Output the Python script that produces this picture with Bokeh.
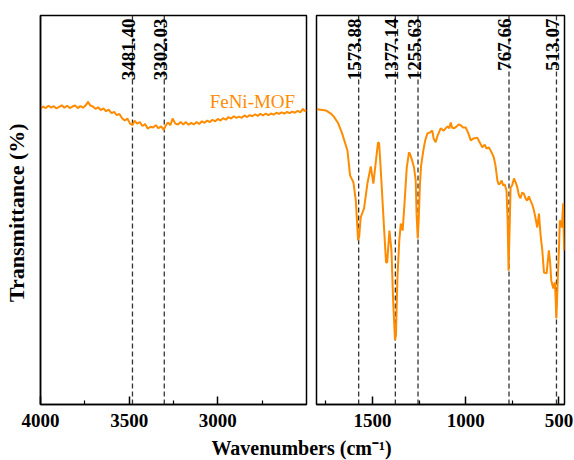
import math
from bokeh.plotting import figure
from bokeh.models import Range1d, FixedTicker, ColumnDataSource
from bokeh.layouts import row, column
from bokeh.core.properties import value
from bokeh.embed import file_html
from bokeh.resources import INLINE

# ---------------- data ----------------
series_name = "FeNi-MOF"

hi_wn = [4000, 3985, 3970, 3955, 3940, 3925, 3910, 3895, 3880, 3865, 3850, 3835, 3820, 3805,
         3790, 3775, 3760, 3745, 3732, 3720, 3705, 3690, 3675, 3660, 3645, 3630, 3615, 3600,
         3585, 3570, 3555, 3540, 3525, 3510, 3495, 3481, 3470, 3455, 3440, 3425, 3410, 3395,
         3380, 3365, 3350, 3335, 3320, 3305, 3295, 3282, 3268, 3255, 3240, 3225, 3210, 3195,
         3180, 3165, 3150, 3135, 3120, 3105, 3090, 3075, 3060, 3045, 3030, 3015, 3000, 2985,
         2970, 2955, 2940, 2925, 2910, 2895, 2880, 2865, 2850, 2835, 2820, 2805, 2790, 2775,
         2760, 2745, 2730, 2715, 2700, 2685, 2670, 2655, 2640, 2625, 2610, 2595, 2580, 2565,
         2550, 2535, 2520, 2510, 2500]
hi_t = [76.0, 76.6, 76.2, 76.8, 76.3, 76.7, 76.1, 76.5, 76.9, 76.3, 76.8, 76.2, 76.6, 76.9,
        76.2, 76.7, 76.3, 76.9, 77.8, 76.9, 76.6, 76.0, 76.4, 75.7, 76.1, 75.4, 75.8, 74.9,
        75.2, 74.4, 74.7, 73.6, 73.0, 73.5, 72.2, 71.8, 73.0, 72.2, 72.6, 71.6, 72.1, 70.9,
        71.4, 71.2, 71.8, 71.0, 71.5, 70.6, 71.6, 72.5, 71.8, 73.5, 72.2, 72.0, 72.6, 72.0,
        72.6, 71.9, 72.4, 72.0, 72.6, 72.1, 72.8, 72.4, 73.0, 72.6, 73.2, 72.8, 73.4, 73.0,
        73.6, 73.2, 73.9, 73.5, 74.1, 73.7, 74.0, 73.7, 74.3, 73.9, 74.4, 74.1, 74.6, 74.2,
        74.7, 74.3, 74.8, 74.4, 74.8, 74.5, 75.0, 74.7, 75.1, 74.8, 75.2, 74.9, 75.3, 75.0,
        75.5, 75.1, 76.0, 75.4, 75.7]

lo_wn = [1798, 1777, 1750, 1723, 1707, 1686, 1664, 1634, 1620, 1602, 1589, 1577, 1571, 1563,
         1545, 1527, 1509, 1495, 1477, 1470, 1464, 1456, 1441, 1427, 1421, 1409, 1398, 1389,
         1379, 1374, 1366, 1356, 1348, 1338, 1327, 1316, 1304, 1299, 1287, 1277, 1268, 1263,
         1257, 1252, 1245, 1239, 1227, 1217, 1205, 1193, 1179, 1172, 1161, 1150, 1134, 1118,
         1098, 1088, 1080, 1073, 1063, 1048, 1038, 1027, 1014, 1000, 987, 973, 957, 938, 925,
         911, 898, 888, 875, 861, 849, 840, 830, 823, 816, 807, 799, 791, 781, 775, 770, 764,
         759, 751, 741, 732, 723, 714, 706, 697, 688, 679, 670, 661, 652, 643, 634, 625, 616,
         607, 598, 589, 580, 566, 554, 547, 541, 530, 522, 517, 514, 510, 506, 500, 495, 490,
         484, 477, 472]
lo_t = [75.9, 75.8, 75.6, 74.8, 74.0, 72.5, 69.9, 65.3, 58.9, 57.1, 52.4, 42.2, 43.2, 48.1,
        50.4, 56.8, 61.2, 56.8, 64.5, 67.4, 67.1, 60.9, 48.1, 36.5, 36.5, 44.7, 39.6, 26.7,
        16.5, 17.7, 32.6, 42.2, 46.5, 44.7, 52.4, 60.9, 64.8, 64.5, 62.7, 60.9, 57.6, 48.6,
        42.7, 47.3, 56.8, 61.4, 65.3, 67.9, 69.7, 69.9, 70.4, 68.4, 67.4, 69.2, 71.0, 70.4,
        71.5, 71.0, 72.5, 71.2, 71.0, 71.5, 72.0, 71.8, 71.2, 71.2, 69.9, 67.9, 68.4, 68.6, 67.4,
        66.1, 66.8, 65.8, 66.1, 64.8, 63.5, 61.4, 57.6, 56.6, 56.8, 57.6, 56.3, 56.6, 55.0, 47.3, 34.4, 46.0,
        55.8, 56.3, 58.1, 57.1, 55.8, 53.7, 53.0, 54.5, 54.2, 53.0, 52.4, 53.5, 52.4, 51.4, 49.9, 47.8, 45.5,
        49.1, 43.4, 39.6, 33.9, 33.7, 39.6, 36.5, 31.9, 29.8, 31.4, 26.7, 22.1, 26.7, 32.6, 39.6, 47.3, 46.8,
        45.5, 51.7, 39.6]

hi_peaks = [3481.40, 3302.03]
lo_peaks = [1573.88, 1377.14, 1255.63, 767.66, 513.07]

hi_ticks = [4000, 3500, 3000]
hi_minor = [3750, 3250, 2750]
lo_ticks = [1500, 1000, 500]
lo_minor = [1750, 1250, 750]

x_title = "Wavenumbers (cm\u207b\u00b9)"
y_title = "Transmittance  (%)"

ORANGE = "#FF8C00"
SERIF = "Liberation Serif"


def style(p, ticks, minor):
    p.outline_line_color = "black"
    p.outline_line_width = 1.5
    p.grid.visible = False
    p.background_fill_color = "white"
    p.border_fill_color = "white"
    ax = p.xaxis[0]
    ax.ticker = FixedTicker(ticks=ticks, minor_ticks=minor)
    ax.axis_line_color = "black"
    ax.axis_line_width = 1.5
    ax.major_tick_in = 8
    ax.major_tick_out = 0
    ax.minor_tick_in = 4
    ax.minor_tick_out = 0
    ax.major_tick_line_color = "black"
    ax.major_tick_line_width = 1.5
    ax.minor_tick_line_color = "black"
    ax.minor_tick_line_width = 1.2
    ax.major_label_text_font = SERIF
    ax.major_label_text_font_style = "bold"
    ax.major_label_text_font_size = "19px"
    ax.major_label_text_color = "black"
    ax.major_label_standoff = 9


def peaks(p, pk):
    src = ColumnDataSource(dict(x=pk, y0=[0] * len(pk), y1=[100] * len(pk),
                                ty=[99.2] * len(pk), lab=["%.2f" % v for v in pk]))
    p.segment(x0="x", y0="y0", x1="x", y1="y1", source=src, line_color="#333333",
              line_width=1.3, line_dash="5 3")
    p.text(x="x", y="ty", text="lab", source=src, angle=math.pi / 2,
           text_align="right", text_baseline="alphabetic", x_offset=-4,
           text_font=value(SERIF), text_font_style="bold", text_font_size="19px",
           text_color="black")


# ---------------- left panel ----------------
p1 = figure(width=311, height=435, x_range=Range1d(4000, 2500), y_range=Range1d(0, 100),
            output_backend="svg", toolbar_location=None,
            min_border_left=38, min_border_right=5, min_border_top=15, min_border_bottom=31)
style(p1, hi_ticks, hi_minor)
ya = p1.yaxis[0]
ya.ticker = FixedTicker(ticks=[])
ya.major_tick_in = 0
ya.major_tick_out = 0
ya.minor_tick_in = 0
ya.minor_tick_out = 0
ya.major_label_standoff = 0
ya.axis_line_color = "black"
ya.axis_line_width = 1.5
ya.axis_label = y_title
ya.axis_label_text_font = SERIF
ya.axis_label_text_font_style = "bold"
ya.axis_label_text_font_size = "22px"
ya.axis_label_text_color = "black"
ya.axis_label_standoff = 12
peaks(p1, hi_peaks)
p1.line(hi_wn, hi_t, line_color=ORANGE, line_width=2)
p1.text(x=[2564], y=[77.9], text=[series_name], text_align="right", text_baseline="alphabetic",
        text_font=value(SERIF), text_font_size="19px", text_color=ORANGE)

# ---------------- right panel ----------------
p2 = figure(width=263, height=435, x_range=Range1d(1800, 470), y_range=Range1d(0, 100),
            output_backend="svg", toolbar_location=None, y_axis_location=None,
            min_border_left=5, min_border_right=10, min_border_top=15, min_border_bottom=31)
style(p2, lo_ticks, lo_minor)
peaks(p2, lo_peaks)
p2.line(lo_wn, lo_t, line_color=ORANGE, line_width=2)

# ---------------- shared x title ----------------
p3 = figure(width=574, height=25, x_range=Range1d(0, 574), y_range=Range1d(0, 25),
            output_backend="svg", toolbar_location=None,
            x_axis_location=None, y_axis_location=None,
            min_border_left=0, min_border_right=0, min_border_top=0, min_border_bottom=0)
p3.outline_line_color = None
p3.grid.visible = False
p3.text(x=[301], y=[13], text=[x_title], text_align="center", text_baseline="middle",
        text_font=value(SERIF), text_font_style="bold", text_font_size="20px",
        text_color="black")

layout = column(row(p1, p2), p3)
open("out.html", "w").write(file_html(layout, INLINE))
